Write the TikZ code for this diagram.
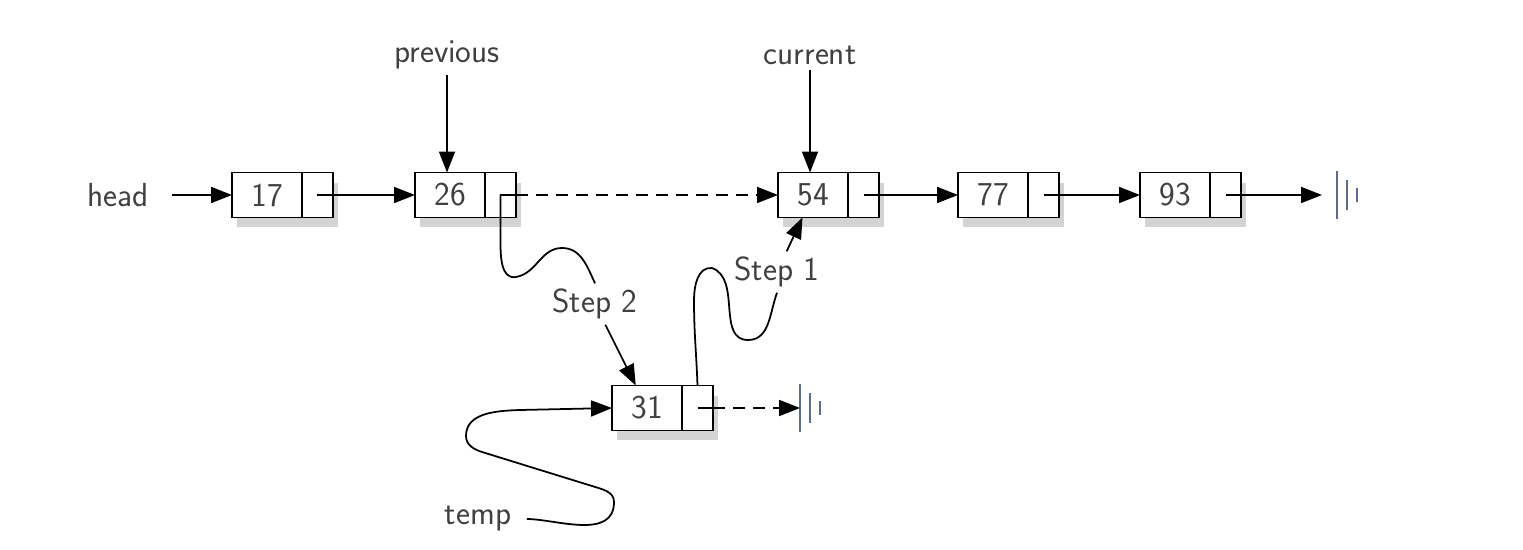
\documentclass[tikz,border=0pt]{standalone}
\usepackage{tikz}
\usetikzlibrary{arrows.meta, positioning, shadows}

\definecolor{nullblue}{rgb}{0.38,0.42,0.52}

\tikzset{
	datacell/.style={draw, fill=white, line width=1pt, minimum width=1.4cm, minimum height=0.9cm,
		inner sep=0pt, outer sep=0pt, drop shadow={shadow xshift=0.1cm, shadow yshift=-0.2cm, opacity=0.35}},
	ptrcell/.style={datacell, minimum width=0.62cm},
	lbl/.style={inner sep=0.3em},
	arr/.style={line width=1pt, -{Triangle[length=0.42cm, width=0.32cm]}},
	dasharr/.style={arr, dash pattern=on 0.24cm off 0.16cm},
	link/.style={line width=1pt},
	gnd/.style={draw=nullblue, line width=1.2pt}
}

% null terminator, long bar at #1
\def\nullmark#1{%
	\draw[gnd] ([yshift=0.48cm]#1) -- ([yshift=-0.48cm]#1);
	\draw[gnd] ([xshift=0.2cm, yshift=0.3cm]#1) -- ([xshift=0.2cm, yshift=-0.3cm]#1);
	\draw[gnd] ([xshift=0.4cm, yshift=0.14cm]#1) -- ([xshift=0.4cm, yshift=-0.14cm]#1);}

\begin{document}
\begin{tikzpicture}[x=0.02cm, y=-0.02cm, font=\sffamily\fontsize{19}{23}\selectfont, text=black!75]
	\useasboundingbox (0,0) rectangle (1523,550);
	% list cells
	\node[datacell] (n17) at (267,195) {17};
	\node[ptrcell, right=0pt of n17] (p17) {};
	\node[datacell] (n26) at (450,195) {26};
	\node[ptrcell, right=0pt of n26] (p26) {};
	\node[datacell] (n54) at (813,195) {54};
	\node[ptrcell, right=0pt of n54] (p54) {};
	\node[datacell] (n77) at (993,195) {77};
	\node[ptrcell, right=0pt of n77] (p77) {};
	\node[datacell] (n93) at (1175,195) {93};
	\node[ptrcell, right=0pt of n93] (p93) {};
	\node[datacell] (n31) at (647,408) {31};
	\node[ptrcell, right=0pt of n31] (p31) {};
	% names
	\node[lbl] (head) at (118,195) {head};
	\node[lbl] (prev) at (447,55) {previous};
	\node[lbl] (curr) at (810,55) {current};
	\node[lbl] (temp) at (478,519) {temp};
	\node[lbl] (s1) at (777,272) {Step 1};
	\node[lbl] (s2) at (595,304) {Step 2};
	% null ends
	\coordinate (null1) at (1337,195);
	\coordinate (null2) at (800,408);
	\nullmark{null1}
	\nullmark{null2}
	% links
	\draw[arr, shorten <=0.36cm] (head) -- (n17);
	\draw[arr] (p17.center) -- (n26);
	\draw[link] (p26.center) -- (p26.east);
	\draw[dasharr] (p26.east) -- (n54);
	\draw[arr] (p54.center) -- (n77);
	\draw[arr] (p77.center) -- (n93);
	\draw[arr, shorten >=0.3cm] (p93.center) -- (null1);
	\draw[link] (p31.center) -- (p31.east);
	\draw[dasharr] (p31.east) -- (null2);
	\draw[arr] (prev) -- (prev |- n26.north);
	\draw[arr] (curr) -- (curr |- n54.north);
	% step 2
	\draw[link] (p26.center) -- ++(0,45) to[out=-90, in=190] (516,277) to[out=10, in=180] (562,248)
		to[out=0, in=115] (s2.north);
	\draw[arr] (s2) -- (n31);
	% step 1
	\draw[link] (p31.north) to[out=92, in=-90] (694,300) to[out=90, in=175] (712,268)
		to[out=-20, in=180] (748,340) to[out=0, in=-110] (s1.south);
	\draw[arr] (s1) -- (n54);
	% temp
	\draw[arr, shorten <=0.2cm] (temp.east) to[out=0, in=-90] (614,502) to[out=90, in=-18] (592,486)
		-- (482,452) to[out=162, in=-90] (466,436) to[out=90, in=182] (520,410) -- (n31.west);
\end{tikzpicture}
\end{document}
